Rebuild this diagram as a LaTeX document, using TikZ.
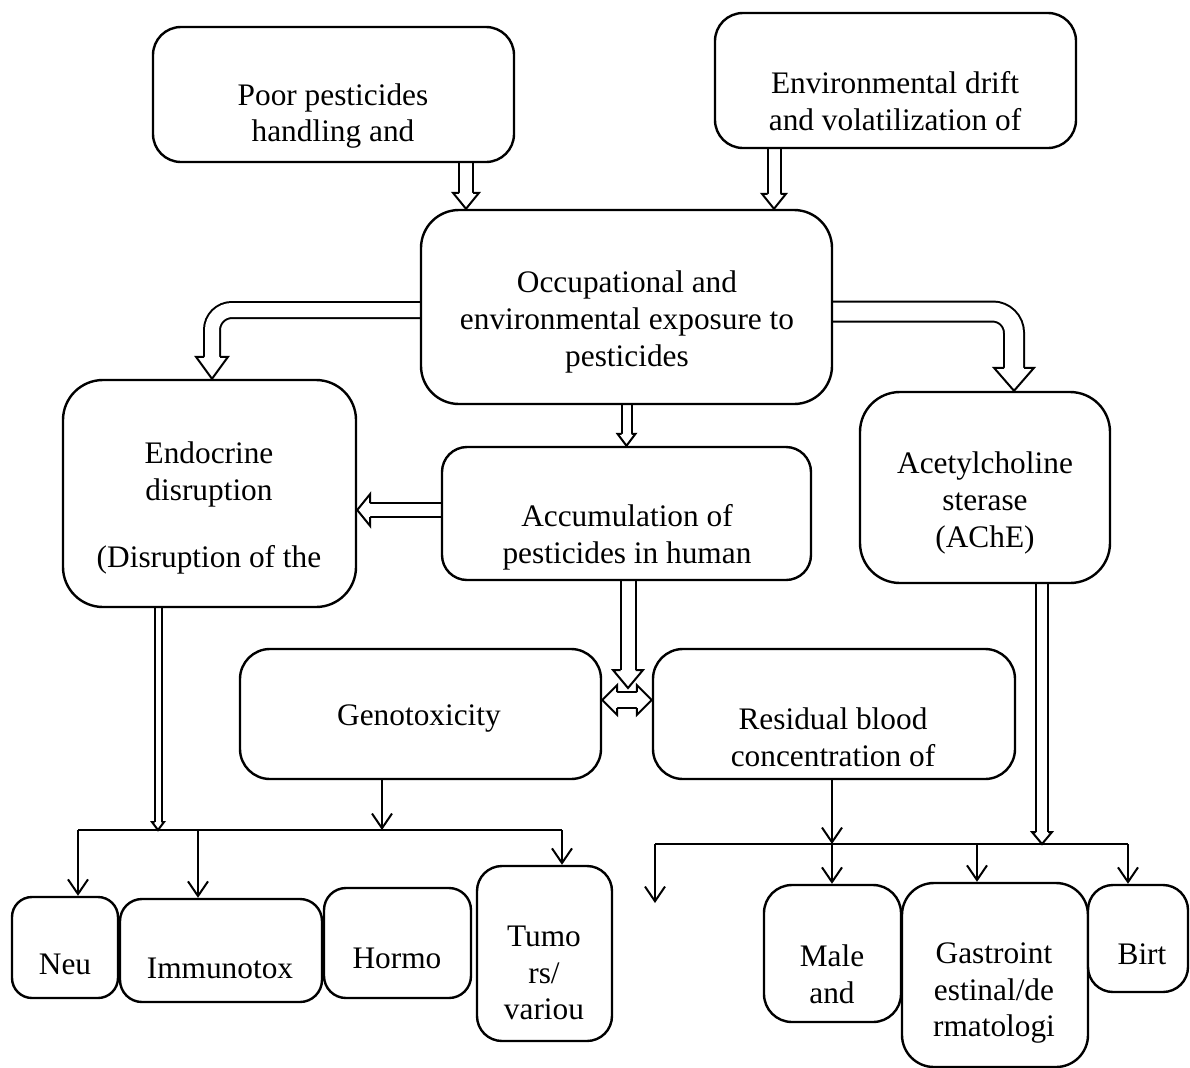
\documentclass[tikz,border=0pt]{standalone}
\usepackage{fontspec}
\setmainfont{Liberation Serif}
\usetikzlibrary{arrows.meta,calc}
\pgfdeclarelayer{bg}
\pgfsetlayers{bg,main}
\tikzset{
  box/.style={draw, line width=1.8pt, fill=white, inner sep=0pt},
  txt/.style={align=center, inner sep=0pt, font=\fontsize{23.5}{27.5}\selectfont},
  arr/.style={line width=1.5pt, -{Straight Barb[length=11pt,width=15pt]}},
  plain/.style={line width=1.5pt},
  hd/.style={line width=1.5pt, line join=miter},
  dsh/.style={double, double distance=#1, line width=1.5pt},
}
% box: name, x1, y1, x2, y2, radius (px)
\newcommand{\mybox}[6]{\node[box, minimum width={(#4-#2)*0.75pt}, minimum height={(#5-#3)*0.75pt}, rounded corners={#6*0.75pt}] (#1) at ({(#2+#4)/2},{(#3+#5)/2}) {};}
% arrow head: tip, rotation, half shaft, half head, length (px)
\newcommand{\ahead}[5]{%
  \begin{scope}[shift={#1}, rotate=#2]
    \fill[white] (0,0) -- (-#4,-#5) -- (#4,-#5) -- cycle;
    \draw[hd] (-#3,-#5) -- (-#4,-#5) -- (0,0) -- (#4,-#5) -- (#3,-#5);
  \end{scope}}
\begin{document}
\begin{tikzpicture}[x=0.75pt,y=-0.75pt]
\useasboundingbox (0,0) rectangle (1190,1068);
% boxes
\mybox{poor}{153}{27}{514}{162}{28}
\mybox{env}{715}{13}{1076}{148}{28}
\mybox{occ}{421}{210}{832}{404}{38}
\mybox{endo}{63}{380}{356}{607}{40}
\mybox{acc}{442}{447}{811}{580}{25}
\mybox{ache}{860}{392}{1110}{583}{40}
\mybox{geno}{240}{649}{601}{779}{30}
\mybox{res}{653}{649}{1015}{779}{30}
\mybox{neu}{12}{897}{118}{998}{20}
\mybox{imm}{120}{899}{322}{1002}{22}
\mybox{hor}{324}{888}{471}{998}{22}
\mybox{tum}{477}{866}{612}{1041}{25}
\mybox{male}{764}{885}{901}{1022}{28}
\mybox{gas}{902}{883}{1088}{1067}{32}
\mybox{birt}{1088}{885}{1188}{992}{25}
% texts
\node[txt] (tpoor) at (333,116) {Poor pesticides\\handling and};
\node[txt] (tenv) at (895,101) {Environmental drift\\and volatilization of};
\node[txt] (tocc) at (627,322) {Occupational and\\environmental exposure to\\pesticides};
\node[txt] (tendo) at (209,508) {Endocrine\\disruption\\[23pt](Disruption of the};
\node[txt] (tacc) at (627,537) {Accumulation of\\pesticides in human};
\node[txt] (tache) at (985,503) {Acetylcholine\\sterase\\(AChE)};
\node[txt] (tgeno) at (419,718) {Genotoxicity};
\node[txt] (tres) at (833,737) {Residual blood\\concentration of};
\node[txt] (tneu) at (65,964) {Neu};
\node[txt] (timm) at (220,968) {Immunotox};
\node[txt] (thor) at (397,958) {Hormo};
\node[txt] (ttum) at (544,973) {Tumo\\rs/\\variou};
\node[txt] (tmale) at (832,974) {Male\\and};
\node[txt] (tgas) at (994,993) {Gastroint\\estinal/de\\rmatologi};
\node[txt] (tbirt) at (1142,954) {Birt};
% helper coordinates
\coordinate (xp) at (466,0);
\coordinate (xe) at (774,0);
\coordinate (yl) at (0,310);
\coordinate (xl) at (212,0);
\coordinate (yr) at (0,311.5);
\coordinate (xr) at (1014,0);
\coordinate (ya) at (0,510);
\coordinate (accTip) at (628,688);
\coordinate (yd) at (0,700);
\coordinate (bl1) at (78,830);
\coordinate (bl2) at (562,830);
\coordinate (bl3) at (198,830);
\coordinate (g1) at (382,830);
\coordinate (e1) at (158,830);
\coordinate (br0) at (655,903);
\coordinate (br1) at (655,844);
\coordinate (br2) at (1128,844);
\coordinate (m1) at (832,844);
\coordinate (gx) at (977,844);
\coordinate (ax) at (1042,844);
\begin{pgfonlayer}{bg}
% Poor -> Occ
\draw[dsh=9pt] (xp |- poor.south) -- ($(xp |- occ.north)+(0,-16)$);
\ahead{(xp |- occ.north)}{0}{7}{13}{16}
% Env -> Occ
\draw[dsh=8.25pt] (xe |- env.south) -- ($(xe |- occ.north)+(0,-15)$);
\ahead{(xe |- occ.north)}{0}{6.5}{12}{15}
% Occ -> Endo (bent)
\draw[dsh=10.5pt, rounded corners=15pt] (occ.west |- yl) -| ($(xl |- endo.north)+(0,-22)$);
\ahead{(xl |- endo.north)}{0}{8}{16}{22}
% Occ -> AChE (bent)
\draw[dsh=13.5pt, rounded corners=16pt] (occ.east |- yr) -| ($(xr |- ache.north)+(0,-23)$);
\ahead{(xr |- ache.north)}{0}{10}{20}{23}
% Occ -> Acc
\draw[dsh=6pt] (occ.south) -- ($(acc.north)+(0,-12)$);
\ahead{(acc.north)}{0}{5}{9}{12}
% Acc -> Endo
\draw[dsh=9pt] (acc.west |- ya) -- ($(endo.east |- ya)+(13,0)$);
\ahead{(endo.east |- ya)}{-90}{7}{16}{13}
% Acc -> down
\draw[dsh=9.75pt] (accTip |- acc.south) -- ($(accTip)+(0,-18)$);
\ahead{(accTip)}{0}{7.5}{15}{18}
% Geno <-> Res
\draw[dsh=10.5pt] ($(geno.east |- yd)+(15,0)$) -- ($(res.west |- yd)+(-15,0)$);
\ahead{(geno.east |- yd)}{-90}{8}{15}{15}
\ahead{(res.west |- yd)}{90}{8}{15}{15}
% Endo -> left bus
\draw[dsh=3.75pt] (e1 |- endo.south) -- ($(e1)+(0,-8)$);
\ahead{(e1)}{0}{3.5}{6}{8}
% AChE -> right bus
\draw[dsh=7.5pt] (ax |- ache.south) -- ($(ax)+(0,-12)$);
\ahead{(ax)}{0}{6}{10}{12}
% left bus
\draw[plain] (bl1) -- (bl2);
\draw[arr] (g1 |- geno.south) -- (g1);
\draw[arr] (bl1) -- (bl1 |- neu.north);
\draw[arr] (bl3) -- (bl3 |- imm.north);
\draw[arr] (bl2) -- (bl2 |- tum.north);
% right bus
\draw[plain] (br1) -- (br2);
\draw[arr] (m1 |- res.south) -- (m1);
\draw[arr] (br1) -- (br0);
\draw[arr] (m1) -- (m1 |- male.north);
\draw[arr] (gx) -- (gx |- gas.north);
\draw[arr] (br2) -- (br2 |- birt.north);
\end{pgfonlayer}
\end{tikzpicture}
\end{document}
